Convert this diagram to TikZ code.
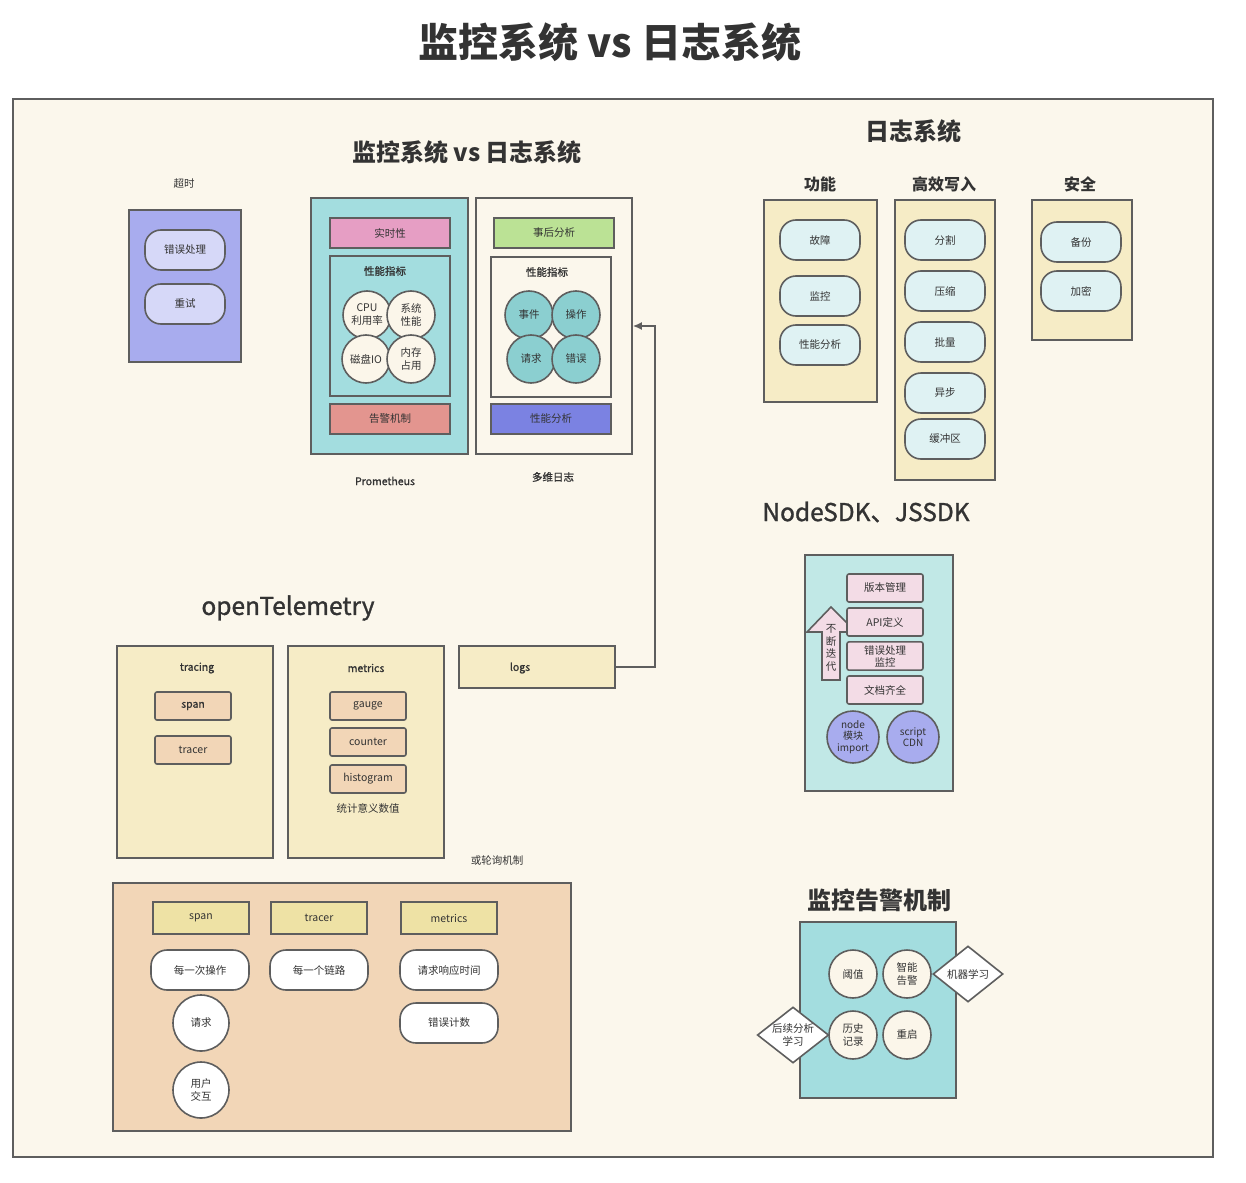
\documentclass[tikz,border=0pt]{standalone}
\usepackage{fontspec}
\setmainfont{Noto Sans CJK SC}
\newfontfamily\semibold[FakeBold=1.2]{Noto Sans CJK SC}
\usetikzlibrary{arrows.meta,shapes.geometric}

\definecolor{linec}{HTML}{5E5E5E}
\definecolor{textc}{HTML}{333333}
\definecolor{boardbg}{HTML}{FBF7EC}
\definecolor{lilac}{HTML}{A8ACEE}
\definecolor{lilacpill}{HTML}{D6D8F8}
\definecolor{teal}{HTML}{A3DDDF}
\definecolor{tealdisc}{HTML}{8BCFD0}
\definecolor{rose}{HTML}{E69EC4}
\definecolor{cream}{HTML}{FBF6EA}
\definecolor{salmon}{HTML}{E3958F}
\definecolor{leaf}{HTML}{BBE295}
\definecolor{indigo}{HTML}{7B82E2}
\definecolor{straw}{HTML}{F6ECC6}
\definecolor{ice}{HTML}{DFF2F3}
\definecolor{sdkbg}{HTML}{C1E8E6}
\definecolor{sdkpink}{HTML}{F3DCE6}
\definecolor{peach}{HTML}{F2D6B7}
\definecolor{hdr}{HTML}{EEE2A5}

\begin{document}
\begin{tikzpicture}[x=1pt, y=-1pt,
  every node/.style={text=textc, align=center, font=\fontsize{10.5}{13}\selectfont},
  box/.style={draw=linec, line width=1.6pt},
  pill/.style={box, rounded corners=16pt, minimum width=80pt, minimum height=40pt},
  tag/.style={box, minimum width=120pt, minimum height=30pt},
  chip/.style={box, rounded corners=2pt, minimum width=76pt, minimum height=28pt},
  disc/.style={box, circle, minimum size=48pt, inner sep=0pt},
  rhomb/.style={box, diamond, fill=white, inner sep=0pt, aspect=1.3},
  strong/.style={font=\fontsize{10.5}{13}\selectfont\semibold},
  bigtitle/.style={font=\fontsize{24}{28}\selectfont\bfseries},
  midtitle/.style={font=\fontsize{24.5}{28}\selectfont\semibold},
  subtitle/.style={font=\fontsize{16}{19}\selectfont\bfseries}]

  \useasboundingbox[fill=white] (0,0) rectangle (1246,1182);

  \node[font=\fontsize{40}{46}\selectfont\bfseries] (maintitle) at (610,42) {监控系统 vs 日志系统};
  \node[draw=linec, line width=2pt, fill=boardbg, minimum width=1200pt, minimum height=1058pt] (board) at (613,628) {};

  % monitoring vs logging
  \node[bigtitle] (mvl) at (467,152) {监控系统 vs 日志系统};

  \node (timeout) at (184,184) {超时};
  \node[box, fill=lilac, minimum width=112pt, minimum height=152pt] (retrybox) at (185,286) {};
  \node[pill, fill=lilacpill] (errh) at (185,250) {错误处理};
  \node[pill, fill=lilacpill] (retry) at (185,304) {重试};

  \node[box, fill=teal, minimum width=157pt, minimum height=256pt] (prom) at (389.5,326) {};
  \node[tag, fill=rose] (realtime) at (390,233) {实时性};
  \node[box, fill=teal, minimum width=120pt, minimum height=140pt] (promkpi) at (390,326) {};
  \node[strong] (promkpitxt) at (385,271) {性能指标};
  \foreach \txt/\x/\y [count=\i] in {{CPU\\利用率}/367/315, {系统\\性能}/411/315, {磁盘IO}/366/359, {内存\\占用}/411/359}
    \node[disc, fill=cream] (promd\i) at (\x,\y) {\txt};
  \node[tag, fill=salmon] (alarm) at (390,419) {告警机制};
  \node[strong] (promtxt) at (385,481) {Prometheus};

  \node[box, fill=boardbg, minimum width=156pt, minimum height=256pt] (mlog) at (554,326) {};
  \node[tag, fill=leaf] (after) at (554,233) {事后分析};
  \node[box, fill=boardbg, minimum width=120pt, minimum height=140pt] (mlogkpi) at (551,327) {};
  \node[strong] (mlogkpitxt) at (547,272) {性能指标};
  \foreach \txt/\x/\y [count=\i] in {事件/529/315, 操作/576/315, 请求/531/359, 错误/576/359}
    \node[disc, fill=tealdisc] (mlogd\i) at (\x,\y) {\txt};
  \node[tag, fill=indigo] (perf) at (551,419) {性能分析};
  \node[strong] (mlogtxt) at (553,477) {多维日志};

  % logging system
  \node[bigtitle] (logsys) at (913,131) {日志系统};
  \node[subtitle] (functxt) at (820,184) {功能};
  \node[subtitle] (writetxt) at (944,184) {高效写入};
  \node[subtitle] (safetxt) at (1080,184) {安全};
  \node[box, fill=straw, minimum width=113pt, minimum height=202pt] (func) at (820.5,301) {};
  \node[box, fill=straw, minimum width=100pt, minimum height=280pt] (write) at (945,340) {};
  \node[box, fill=straw, minimum width=100pt, minimum height=140pt] (safe) at (1082,270) {};
  \foreach \txt/\y [count=\i] in {故障/240, 监控/296, 性能分析/345}
    \node[pill, fill=ice] (func\i) at (820,\y) {\txt};
  \foreach \txt/\y [count=\i] in {分割/240, 压缩/291, 批量/342, 异步/393, 缓冲区/439}
    \node[pill, fill=ice] (write\i) at (945,\y) {\txt};
  \foreach \txt/\y [count=\i] in {备份/242, 加密/291}
    \node[pill, fill=ice] (safe\i) at (1081,\y) {\txt};

  % sdk
  \node[midtitle] (sdktxt) at (866,512) {NodeSDK、JSSDK};
  \node[box, fill=sdkbg, minimum width=148pt, minimum height=236pt] (sdk) at (879,673) {};
  \draw[box, fill=sdkpink] (822,680) -- (822,632) -- (807,632) -- (831,607) -- (856,632)
    -- (840,632) -- (840,680) -- cycle;
  \node[font=\fontsize{10.5}{12.5}\selectfont] (iterate) at (831,648) {不\\断\\迭\\代};
  \foreach \txt/\y [count=\i] in {版本管理/588, API定义/622, {错误处理\\监控}/656, 文档齐全/690}
    \node[chip, fill=sdkpink, font=\fontsize{10.5}{12}\selectfont] (sdk\i) at (885,\y) {\txt};
  \node[disc, fill=lilac, minimum size=52pt, font=\fontsize{10}{11.5}\selectfont] (nodemod) at (853,737) {node\\模块\\import};
  \node[disc, fill=lilac, minimum size=52pt, font=\fontsize{10}{11.5}\selectfont] (cdn) at (913,737) {script\\CDN};

  % openTelemetry
  \node[midtitle] (oteltxt) at (288,608) {openTelemetry};
  \node[box, fill=straw, minimum width=156pt, minimum height=212pt] (tracing) at (195,752) {};
  \node[box, fill=straw, minimum width=156pt, minimum height=212pt] (metrics) at (366,752) {};
  \node[box, fill=straw, minimum width=156pt, minimum height=42pt] (logs) at (537,667) {};
  \node[strong] (tracingtxt) at (197,668) {tracing};
  \node[strong] (metricstxt) at (366,668) {metrics};
  \node[strong] (logstxt) at (520,668) {logs};
  \node[chip, fill=peach, strong] (span) at (193,706) {span};
  \node[chip, fill=peach] (tracer) at (193,750) {tracer};
  \foreach \txt/\y [count=\i] in {gauge/706, counter/742, histogram/779}
    \node[chip, fill=peach] (metric\i) at (368,\y) {\txt};
  \node (stat) at (368,808) {统计意义数值};
  \node (poll) at (497,860) {或轮询机制};

  \draw[box, -{Latex[length=9pt,width=8pt]}] (logs.east) -- ++(39,0) |- (mlog.east);

  % details
  \node[box, fill=peach, minimum width=458pt, minimum height=248pt] (detail) at (342,1007) {};
  \foreach \txt/\x [count=\i] in {span/201, tracer/319, metrics/449}
    \node[box, fill=hdr, minimum width=96pt, minimum height=32pt] (head\i) at (\x,918) {\txt};
  \node[pill, fill=white, minimum width=98pt] (everyop) at (200,970) {每一次操作};
  \node[pill, fill=white, minimum width=98pt] (everylink) at (319,970) {每一个链路};
  \node[pill, fill=white, minimum width=98pt] (resptime) at (449,970) {请求响应时间};
  \node[pill, fill=white, minimum width=98pt] (errcount) at (449,1023) {错误计数};
  \node[disc, fill=white, minimum size=56pt] (req) at (201,1023) {请求};
  \node[disc, fill=white, minimum size=56pt] (interact) at (201,1090) {用户\\交互};

  % alerting
  \node[bigtitle] (alerttxt) at (879,900) {监控告警机制};
  \node[box, fill=teal, minimum width=156pt, minimum height=176pt] (alert) at (878,1010) {};
  \foreach \txt/\x/\y [count=\i] in {阈值/853/974, {智能\\告警}/907/974, {历史\\记录}/853/1035, 重启/907/1035}
    \node[disc, fill=cream] (alertd\i) at (\x,\y) {\txt};
  \node[rhomb, minimum width=70pt, minimum height=56pt] (ml) at (968,974) {机器学习};
  \node[rhomb, minimum width=71pt, minimum height=56pt] (study) at (793,1035) {后续分析\\学习};
\end{tikzpicture}
\end{document}
